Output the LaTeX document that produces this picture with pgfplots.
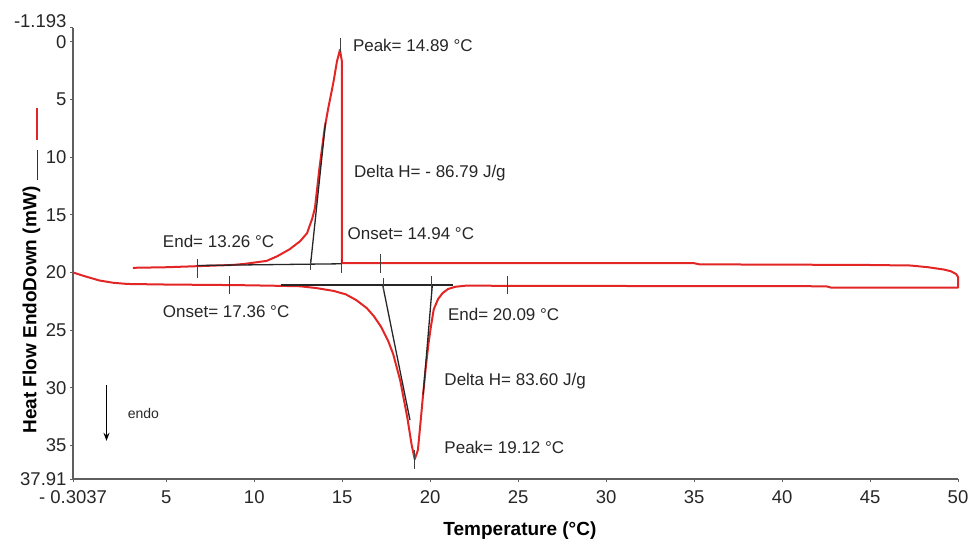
\documentclass[border=0pt]{standalone}
\usepackage{pgfplots}
\pgfplotsset{compat=1.18}
\usepackage{fontspec}
\setmainfont{Liberation Sans}
\usetikzlibrary{arrows.meta}
\definecolor{curvered}{RGB}{226,38,38}
\definecolor{axgray}{RGB}{95,95,95}
\begin{document}
\begin{tikzpicture}[x=1bp,y=1bp]
\useasboundingbox (0,0) rectangle (969,541);
\begin{axis}[
  at={(73bp,62bp)}, anchor=south west,
  scale only axis, width=885bp, height=451bp,
  xmin=-0.3037, xmax=50, ymin=-1.193, ymax=37.91, y dir=reverse,
  axis x line*=bottom, axis y line*=left,
  axis line style={line width=1.3bp, draw=axgray},
  tick style={line width=1bp, draw=axgray},
  major tick length=3bp, tick align=outside,
  xtick={-0.3037,5,10,15,20,25,30,35,40,45,50},
  xticklabels={- 0.3037,5,10,15,20,25,30,35,40,45,50},
  ytick={-1.193,0,5,10,15,20,25,30,35,37.91},
  yticklabels={\raisebox{0bp}[0pt][0pt]{-1.193},0,5,10,15,20,25,30,35,37.91},
  ticklabel style={font=\fontsize{18.5bp}{21bp}\selectfont, text=black!85},
  xticklabel style={yshift=-5bp},
  yticklabel style={xshift=0bp},
  /pgf/number format/assume math mode=true,
  xlabel={Temperature (°C)},
  xlabel style={at={(axis description cs:0.505,-0.115)}, anchor=center, font=\bfseries\fontsize{19bp}{22bp}\selectfont},
  ylabel={Heat Flow EndoDown (mW)\hspace{7bp}\raisebox{-2bp}{\textcolor{black!80}{\rule{30bp}{1.2bp}}}\hspace{10bp}\raisebox{-2bp}{\textcolor{curvered}{\rule{32bp}{2bp}}}},
  ylabel style={at={(axis description cs:-0.0469,0.462)}, anchor=center, font=\bfseries\fontsize{19bp}{22bp}\selectfont},
  clip=false,
]
% DSC curve (heating, then cooling)
\addplot[curvered, line width=2bp, line join=round] coordinates {
(-0.3037,20.0) (0.3,20.3) (1.2,20.7) (2.0,20.9) (2.8,21.0) (5,21.05) (9,21.1) (11,21.15)
(12.6,21.2) (13.5,21.35) (14.5,21.6) (15.2,21.9) (15.8,22.4) (16.4,23.1) (16.8,23.8)
(17.2,24.7) (17.6,25.9) (17.9,27.1) (18.3,29.4) (18.7,32.6) (18.95,35.0) (19.12,36.2)
(19.3,35.4) (19.45,33.0) (19.6,30.5) (19.75,28.2) (19.9,26.2) (20.05,24.6) (20.2,23.2)
(20.45,22.3) (20.7,21.8) (21.0,21.45) (21.4,21.25) (22.0,21.15) (28,21.17) (42.5,21.2)
(42.8,21.32) (50.0,21.32) (50.0,20.4) (49.9,20.15) (49.6,19.9) (49.2,19.75) (48.3,19.55)
(47.3,19.4) (44.7,19.35) (35.3,19.3) (35.0,19.2) (14.98,19.2) (14.98,1.7) (14.87,0.7)
(14.7,1.7) (14.5,3.5) (14.2,5.8) (14.0,7.5) (13.7,11.0) (13.45,14.4) (13.3,15.3)
(13.0,16.6) (12.6,17.3) (12.0,18.0) (11.3,18.6) (10.7,19.0) (9.5,19.25) (8.8,19.35)
(6.9,19.45) (5,19.55) (3.1,19.6)
};
% analysis lines (cooling)
\addplot[black!85, line width=1.3bp] coordinates {(6.75,19.4) (14.97,19.25)};
\addplot[black!85, line width=1.3bp] coordinates {(13.2,19.3) (14.05,7.0)};
\addplot[black!75, line width=1bp] coordinates {(6.75,18.8) (6.75,20.5)};
\addplot[black!75, line width=1bp] coordinates {(13.22,18.8) (13.22,19.8)};
\addplot[black!75, line width=1bp] coordinates {(14.94,18.8) (14.94,20.05)};
\addplot[black!75, line width=1bp] coordinates {(17.15,18.4) (17.15,20.05)};
\addplot[black!75, line width=1bp] coordinates {(14.89,-0.3) (14.89,0.9)};
% analysis lines (heating)
\addplot[black!85, line width=1.3bp] coordinates {(11.5,21.1) (21.3,21.1)};
\addplot[black!85, line width=1.3bp] coordinates {(17.3,21.1) (18.85,32.8)};
\addplot[black!85, line width=1.3bp] coordinates {(20.12,21.1) (19.6,30.6)};
\addplot[black!75, line width=1bp] coordinates {(8.6,20.3) (8.6,21.9)};
\addplot[black!75, line width=1bp] coordinates {(24.4,20.3) (24.4,21.9)};
\addplot[black!75, line width=1bp] coordinates {(17.36,20.5) (17.36,21.6)};
\addplot[black!75, line width=1bp] coordinates {(20.09,20.3) (20.09,21.5)};
\addplot[black!75, line width=1bp] coordinates {(19.12,35.4) (19.12,37.0)};
% labels
\begin{scope}[every node/.style={anchor=west, inner sep=0pt, font=\fontsize{17bp}{20bp}\selectfont, text=black!85}]
\node at (axis cs:15.6,0.35) {Peak= 14.89 °C};
\node at (axis cs:15.66,11.4) {Delta H= - 86.79 J/g};
\node at (axis cs:15.3,16.6) {Onset= 14.94 °C};
\node at (axis cs:4.8,17.3) {End= 13.26 °C};
\node at (axis cs:4.8,23.4) {Onset= 17.36 °C};
\node at (axis cs:21.0,23.6) {End= 20.09 °C};
\node at (axis cs:20.8,29.4) {Delta H= 83.60 J/g};
\node at (axis cs:20.8,35.2) {Peak= 19.12 °C};
\end{scope}
\node[anchor=west, inner sep=0pt, font=\fontsize{14bp}{16bp}\selectfont, text=black!85] at (axis cs:2.8,32.2) {endo};
\draw[-{Stealth[length=8bp,width=6bp]}, line width=1.2bp, black] (axis cs:1.6,29.8) -- (axis cs:1.6,34.6);
\end{axis}
\end{tikzpicture}
\end{document}
